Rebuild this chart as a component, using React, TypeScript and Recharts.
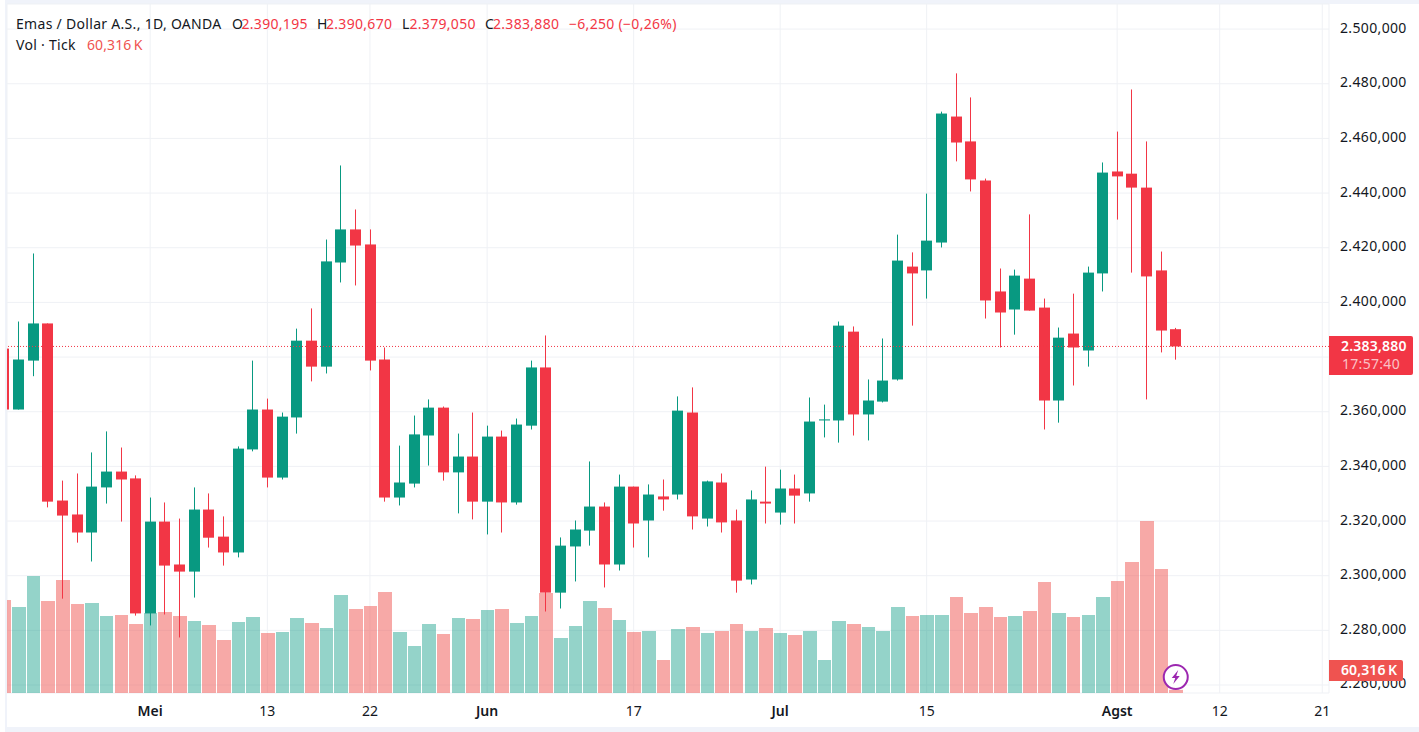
import React from "react";
import { ComposedChart, Bar, XAxis, YAxis, CartesianGrid, ReferenceLine, ReferenceDot } from "recharts";

const opens = [2383.1,2360.8,2378.7,2392.3,2327.5,2322.4,2315.8,2332.3,2338.1,2335.6,2286.2,2319.8,2304.1,2301.5,2324.2,2314.3,2308.5,2346.2,2360.8,2335.9,2357.9,2386.0,2376.5,2414.6,2426.7,2421.2,2379.1,2328.6,2333.7,2351.3,2361.5,2337.8,2343.6,2327.1,2350.9,2326.8,2354.9,2376.2,2293.8,2310.7,2316.5,2325.3,2304.1,2332.6,2320.2,2329.0,2329.7,2359.7,2320.9,2334.1,2320.2,2298.6,2327.1,2323.1,2331.9,2330.1,2356.8,2356.8,2389.3,2359.0,2363.7,2371.8,2413.1,2411.7,2421.9,2468.0,2458.9,2444.6,2404.0,2397.4,2408.7,2398.1,2364.1,2388.6,2382.4,2410.6,2447.9,2447.1,2442.0,2411.7,2390.195];
const highs = [2385.0,2393.0,2417.9,2392.3,2334.8,2337.4,2345.1,2352.8,2346.9,2336.7,2328.6,2326.8,2320.9,2332.3,2330.1,2321.7,2347.3,2378.7,2364.8,2359.7,2390.4,2397.8,2423.0,2450.1,2434.0,2426.7,2383.5,2347.6,2358.6,2364.5,2361.9,2352.0,2359.7,2354.9,2353.1,2357.5,2378.7,2387.9,2314.0,2320.2,2341.8,2326.8,2337.0,2332.6,2333.4,2335.2,2365.6,2368.9,2334.8,2337.4,2324.2,2331.2,2339.9,2338.8,2337.0,2365.2,2362.6,2393.0,2391.2,2371.8,2386.8,2424.8,2418.3,2439.8,2469.8,2483.8,2475.0,2445.3,2412.4,2412.0,2432.2,2401.4,2390.8,2403.2,2413.1,2451.2,2462.5,2477.9,2458.9,2418.6,2390.67];
const lows = [2358.0,2360.8,2373.0,2325.0,2291.6,2312.1,2305.2,2326.4,2319.8,2285.4,2281.8,2285.8,2277.4,2292.0,2310.3,2303.7,2306.7,2345.5,2332.3,2335.2,2352.0,2371.1,2374.0,2407.3,2406.2,2375.1,2327.1,2325.7,2332.3,2340.3,2334.8,2322.8,2320.6,2315.1,2315.8,2326.0,2353.5,2286.9,2288.0,2297.9,2311.0,2295.7,2301.9,2310.3,2306.7,2323.8,2327.9,2316.9,2318.0,2315.8,2293.8,2296.8,2319.1,2318.7,2319.1,2327.1,2350.6,2348.7,2351.3,2349.5,2363.4,2371.4,2391.5,2401.4,2420.1,2451.6,2440.6,2394.1,2383.5,2388.2,2397.0,2353.5,2356.0,2369.6,2376.5,2404.0,2430.3,2410.9,2364.5,2381.7,2379.05];
const closes = [2360.8,2379.1,2392.3,2327.1,2322.0,2315.8,2332.6,2338.1,2335.2,2286.2,2319.8,2303.7,2301.5,2324.2,2313.9,2308.5,2346.5,2360.8,2335.9,2358.2,2386.0,2376.5,2415.0,2426.7,2420.8,2378.7,2328.6,2334.1,2351.7,2361.5,2337.8,2343.6,2327.1,2350.9,2326.8,2355.3,2376.2,2293.8,2311.0,2316.9,2325.3,2304.1,2332.6,2319.1,2329.7,2327.9,2360.4,2321.7,2334.5,2319.5,2298.2,2327.9,2326.4,2331.9,2329.3,2356.4,2357.2,2391.5,2359.0,2364.1,2371.4,2415.3,2410.6,2422.6,2469.1,2458.5,2445.0,2400.7,2396.3,2409.8,2397.0,2364.1,2387.1,2383.5,2410.9,2447.5,2446.1,2442.0,2409.5,2389.7,2383.88];
const volumes = [240,226,288,238,280,232,234,208,210,192,214,216,208,198,190,160,196,206,174,176,204,194,184,250,222,228,256,176,148,192,172,204,202,220,222,194,208,254,164,188,238,224,200,176,178,120,182,186,174,178,192,178,184,174,170,178,120,198,192,186,178,226,208,210,210,246,214,226,206,208,218,276,214,206,210,246,278,316,398,302,60.316];

const xTickDays = [9, 17, 24, 32, 42, 52, 62, 75, 82, 89];
const xTickLabels = ["Mei", "13", "22", "Jun", "17", "Jul", "15", "Agst", "12", "21"];
const monthLabels = ["Mei", "Jun", "Jul", "Agst"];
const priceTicks = [2500, 2480, 2460, 2440, 2420, 2400, 2380, 2360, 2340, 2320, 2300, 2280, 2260];
const priceTickLabels = ["2.500,000", "2.480,000", "2.460,000", "2.440,000", "2.420,000", "2.400,000", "", "2.360,000", "2.340,000", "2.320,000", "2.300,000", "2.280,000", "2.260,000"];
const lastClose = 2383.88;

const table = opens.map((open, k) => ({
  day: k - 1,
  up: closes[k] >= open,
  volume: volumes[k],
  wick: [lows[k], highs[k]],
  body: [Math.min(open, closes[k]), Math.max(open, closes[k])],
}));

const GREEN = "#089981";
const RED = "#f23645";
const TEXT = "#131722";
const FONT = "'Noto Sans', sans-serif";
const xDomain = [-0.771, 89.46];

const CandlePart = (p: any) => (
  <rect
    x={Math.round(p.x)}
    y={p.y}
    width={p.width}
    height={Math.max(1, p.height)}
    fill={p.payload.up ? GREEN : RED}
  />
);

const VolumeBar = (p: any) => {
  const left = Math.round(p.x);
  const right = Math.round(p.x + p.width);
  return (
    <rect
      x={left}
      y={p.y}
      width={right - left}
      height={p.height}
      fill={p.payload.up ? GREEN : "#ef5350"}
      fillOpacity={p.payload.up ? 0.43 : 0.5}
    />
  );
};

const XTick = (p: any) => {
  const label = xTickLabels[xTickDays.indexOf(p.payload.value)];
  const bold = monthLabels.includes(label);
  return (
    <text
      x={p.x}
      y={p.y + 17}
      textAnchor="middle"
      dominantBaseline="central"
      fontFamily={FONT}
      fontSize={14}
      fontWeight={bold ? 600 : 400}
      fill={TEXT}
    >
      {label}
    </text>
  );
};

const BoltDot = (p: any) => (
  <g>
    <circle cx={p.cx} cy={p.cy} r={12} fill="#ffffff" stroke="#9c27b0" strokeWidth={2} />
    <path
      transform={`translate(${p.cx},${p.cy})`}
      d="M2.5,-7 L-4,1 H-0.5 L-2.5,7 L4,-1 H0.5 Z"
      fill="#9c27b0"
    />
  </g>
);

const Label = ({ x, y, color, weight, lh, spacing, children }: any) => (
  <span
    style={{
      position: "absolute",
      left: x,
      top: y,
      color,
      fontWeight: weight || 400,
      fontFamily: FONT,
      fontSize: 14,
      lineHeight: `${lh || 20}px`,
      letterSpacing: spacing === undefined ? 0.3 : spacing,
      whiteSpace: "pre",
    }}
  >
    {children}
  </span>
);

const band = "#f0f3fa";

export default function App() {
  return (
    <div style={{ position: "absolute", left: 0, top: 0, width: 1419, height: 732, background: "#fff", overflow: "hidden" }}>
      <div style={{ position: "absolute", left: 5, top: 0, width: 1414, height: 4, background: band }} />
      <div style={{ position: "absolute", left: 5, top: 0, width: 2, height: 732, background: band }} />
      <div style={{ position: "absolute", left: 5, top: 727, width: 1414, height: 5, background: band }} />
      <div style={{ position: "absolute", left: 0, top: 0 }}>
        <ComposedChart
          width={1419}
          height={732}
          data={table}
          margin={{ top: 4, right: 0, bottom: 0, left: 7 }}
          barGap={0}
          barCategoryGap={0}
        >
          <XAxis
            xAxisId="a"
            dataKey="day"
            type="number"
            scale="linear"
            domain={xDomain}
            allowDataOverflow
            ticks={xTickDays}
            interval={0}
            height={39}
            axisLine={false}
            tickLine={false}
            tickSize={0}
            tickMargin={0}
            tick={<XTick />}
          />
          <XAxis xAxisId="b" dataKey="day" type="number" scale="linear" domain={xDomain} allowDataOverflow hide />
          <XAxis xAxisId="c" dataKey="day" type="number" scale="linear" domain={xDomain} allowDataOverflow hide />
          <YAxis
            yAxisId="price"
            orientation="right"
            width={90}
            type="number"
            domain={[2257.08, 2509.18]}
            allowDataOverflow
            ticks={priceTicks}
            interval={0}
            axisLine={false}
            tickLine={false}
            tickSize={0}
            tickMargin={11}
            tick={{ fill: TEXT, fontSize: 14, fontFamily: FONT, dy: -1.5, letterSpacing: 0.35 }}
            tickFormatter={(v: number) => priceTickLabels[priceTicks.indexOf(v)]}
          />
          <YAxis yAxisId="vol" hide type="number" domain={[54, 1432]} allowDataOverflow />
          <CartesianGrid xAxisId="a" yAxisId="price" stroke="#eff1f5" strokeWidth={1} />
          <Bar xAxisId="a" yAxisId="vol" dataKey="volume" barSize={13.6} isAnimationActive={false} shape={<VolumeBar />} />
          <Bar xAxisId="b" yAxisId="price" dataKey="wick" barSize={1} isAnimationActive={false} shape={<CandlePart />} />
          <Bar xAxisId="c" yAxisId="price" dataKey="body" barSize={11} isAnimationActive={false} shape={<CandlePart />} />
          <ReferenceLine xAxisId="a" yAxisId="price" y={lastClose} stroke={RED} strokeWidth={1} strokeDasharray="1 2" />
          <ReferenceDot xAxisId="a" yAxisId="price" x={79} y={2262.9} r={12} shape={<BoltDot />} />
        </ComposedChart>
      </div>

      <Label x={16} y={14} color={TEXT}>Emas / Dollar A.S., 1D, OANDA</Label>
      <Label x={232} y={14} color={TEXT}>O</Label>
      <Label x={241.5} y={14} color={RED}>2.390,195</Label>
      <Label x={317} y={14} color={TEXT}>H</Label>
      <Label x={326} y={14} color={RED}>2.390,670</Label>
      <Label x={402} y={14} color={TEXT}>L</Label>
      <Label x={409.5} y={14} color={RED}>2.379,050</Label>
      <Label x={485} y={14} color={TEXT}>C</Label>
      <Label x={493} y={14} color={RED}>2.383,880</Label>
      <Label x={569} y={14} color={RED}>−6,250 (−0,26%)</Label>
      <Label x={16} y={35} color={TEXT}>Vol · Tick</Label>
      <Label x={87} y={35} color="#ef5350" spacing={0.1}>60,316{"\u2009"}K</Label>

      <div style={{ position: "absolute", left: 1329, top: 336, width: 84, height: 39, background: RED, borderRadius: "0 2px 2px 0" }} />
      <Label x={1341} y={338} lh={16} color="#ffffff" weight={600} spacing={0.2}>2.383,880</Label>
      <Label x={1342} y={355.5} lh={16} color="rgba(255,255,255,0.7)">17:57:40</Label>
      <div style={{ position: "absolute", left: 1329, top: 660, width: 74, height: 21, background: "#ef5350", borderRadius: "0 2px 2px 0" }} />
      <Label x={1341} y={660} color="#ffffff" weight={600} spacing={0.1}>60,316{"\u2009"}K</Label>
    </div>
  );
}
